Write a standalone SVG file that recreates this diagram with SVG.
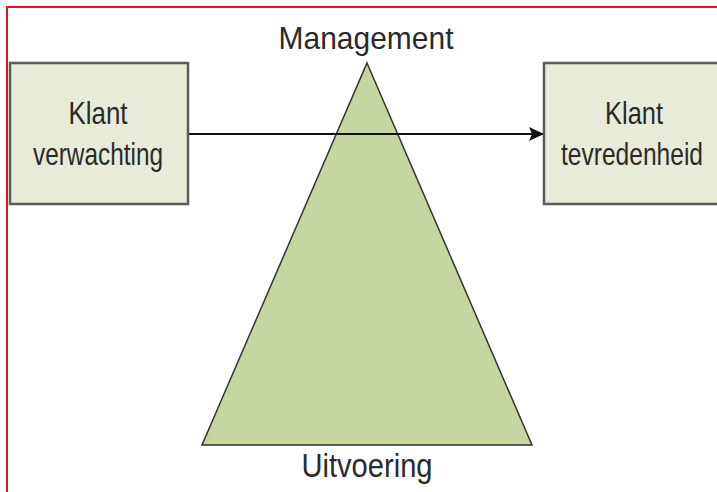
<svg xmlns="http://www.w3.org/2000/svg" width="717" height="492" viewBox="0 0 717 492">
<style>
.box{fill:#e8ebda;stroke:#5a5a5a;stroke-width:2.5}
.tri{fill:#c6d6a0;stroke:#333;stroke-width:1.5}
.t{font-family:"Liberation Sans",Arial,sans-serif;fill:#2a2a2a;text-anchor:middle}
.conn{stroke:#111;stroke-width:2;fill:none}
</style>
<defs>
<marker id="arr" markerWidth="16" markerHeight="16" refX="15" refY="8" orient="auto" markerUnits="userSpaceOnUse" viewBox="0 0 16 16">
<path d="M0,1 L15,8 L0,15 L3,8 z" fill="#111"/>
</marker>
</defs>
<rect width="717" height="492" fill="#fff"/>
<rect x="7" y="7" width="730" height="500" fill="none" stroke="#e0141e" stroke-width="2"/>
<g id="pyramid">
<polygon class="tri" points="367,63 532,445 202,445"/>
<text class="t" x="366" y="49" font-size="32" textLength="175" lengthAdjust="spacingAndGlyphs">Management</text>
<text class="t" x="367" y="477" font-size="34" textLength="131" lengthAdjust="spacingAndGlyphs">Uitvoering</text>
</g>
<g id="connectors">
<line class="conn" x1="188" y1="134" x2="544" y2="134" marker-end="url(#arr)"/>
</g>
<g id="klant-verwachting">
<rect class="box" x="10" y="63" width="178" height="141"/>
<text class="t" x="98" y="124" font-size="32" textLength="59" lengthAdjust="spacingAndGlyphs">Klant</text>
<text class="t" x="98" y="165" font-size="32" textLength="130" lengthAdjust="spacingAndGlyphs">verwachting</text>
</g>
<g id="klant-tevredenheid">
<rect class="box" x="544" y="63" width="190" height="141"/>
<text class="t" x="634" y="124" font-size="32" textLength="58" lengthAdjust="spacingAndGlyphs">Klant</text>
<text class="t" x="632" y="165" font-size="32" textLength="142" lengthAdjust="spacingAndGlyphs">tevredenheid</text>
</g>
</svg>
